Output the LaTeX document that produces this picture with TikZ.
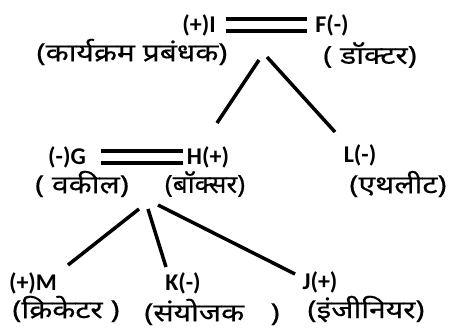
\documentclass[tikz,border=0pt]{standalone}
\usepackage{fontspec}
\setmainfont{Carlito}
\newfontfamily\dev[Script=Devanagari,FakeBold=0.4]{Noto Sans}
\newcommand{\sx}[2][1.2]{\scalebox{#1}[1]{#2}}
\begin{document}
\begin{tikzpicture}[x=1pt,y=-1pt,
  lat/.style={inner sep=0pt,font=\fontsize{24}{25}\selectfont\bfseries},
  dv/.style={inner sep=0pt,font=\fontsize{25}{26}\selectfont\dev},
  edge/.style={line width=3.5pt},
  pair/.style={line width=4pt,double,double distance=8pt}]
\useasboundingbox (0,0) rectangle (451,330);
% top pair
\node[lat] (I) at (199,25) {(+)I};
\node[lat] (F) at (332,25) {F(-)};
\node[dv] (Ip) at (132,52) {\sx{(कार्यक्रम प्रबंधक)}};
\node[dv] (Fp) at (370,55) {\sx{( डॉक्टर)}};
\draw[pair,shorten <=10pt,shorten >=8pt] (I.east) -- (F.west);
% middle row
\node[lat] (G) at (67,157) {(-)G};
\node[lat] (H) at (208,157) {H(+)};
\node[lat] (L) at (360,155) {L(-)};
\node[dv] (Gp) at (82,184) {\sx{( वकील)}};
\node[dv] (Hp) at (205,184) {\sx[1.05]{(बॉक्सर)}};
\node[dv] (Lp) at (398,184) {\sx{(एथलीट)}};
\draw[pair,shorten <=15pt,shorten >=4pt] (G.east) -- (H.west);
% bottom row
\node[lat] (M) at (33,283) {(+)M};
\node[lat] (K) at (183,283) {K(-)};
\node[lat] (J) at (320,282) {J(+)};
\node[dv] (Mp) at (66,309) {\sx{(क्रिकेटर )}};
\node[dv] (Kp) at (212,312) {\sx{(संयोजक\hspace{22pt})}};
\node[dv] (Jp) at (366,309) {\sx{(इंजीनियर)}};
% connectors
\coordinate (a1) at (259,60);
\coordinate (a2) at (267,57);
\coordinate (b1) at (217,123);
\coordinate (b2) at (335,132);
\coordinate (c1) at (139,209);
\coordinate (c2) at (148,209);
\coordinate (c3) at (158,205);
\coordinate (d1) at (68,265);
\coordinate (d2) at (166,267);
\coordinate (d3) at (295,274);
\draw[edge] (a1) -- (b1);
\draw[edge] (a2) -- (b2);
\draw[edge] (c1) -- (d1);
\draw[edge] (c2) -- (d2);
\draw[edge] (c3) -- (d3);
\end{tikzpicture}
\end{document}
